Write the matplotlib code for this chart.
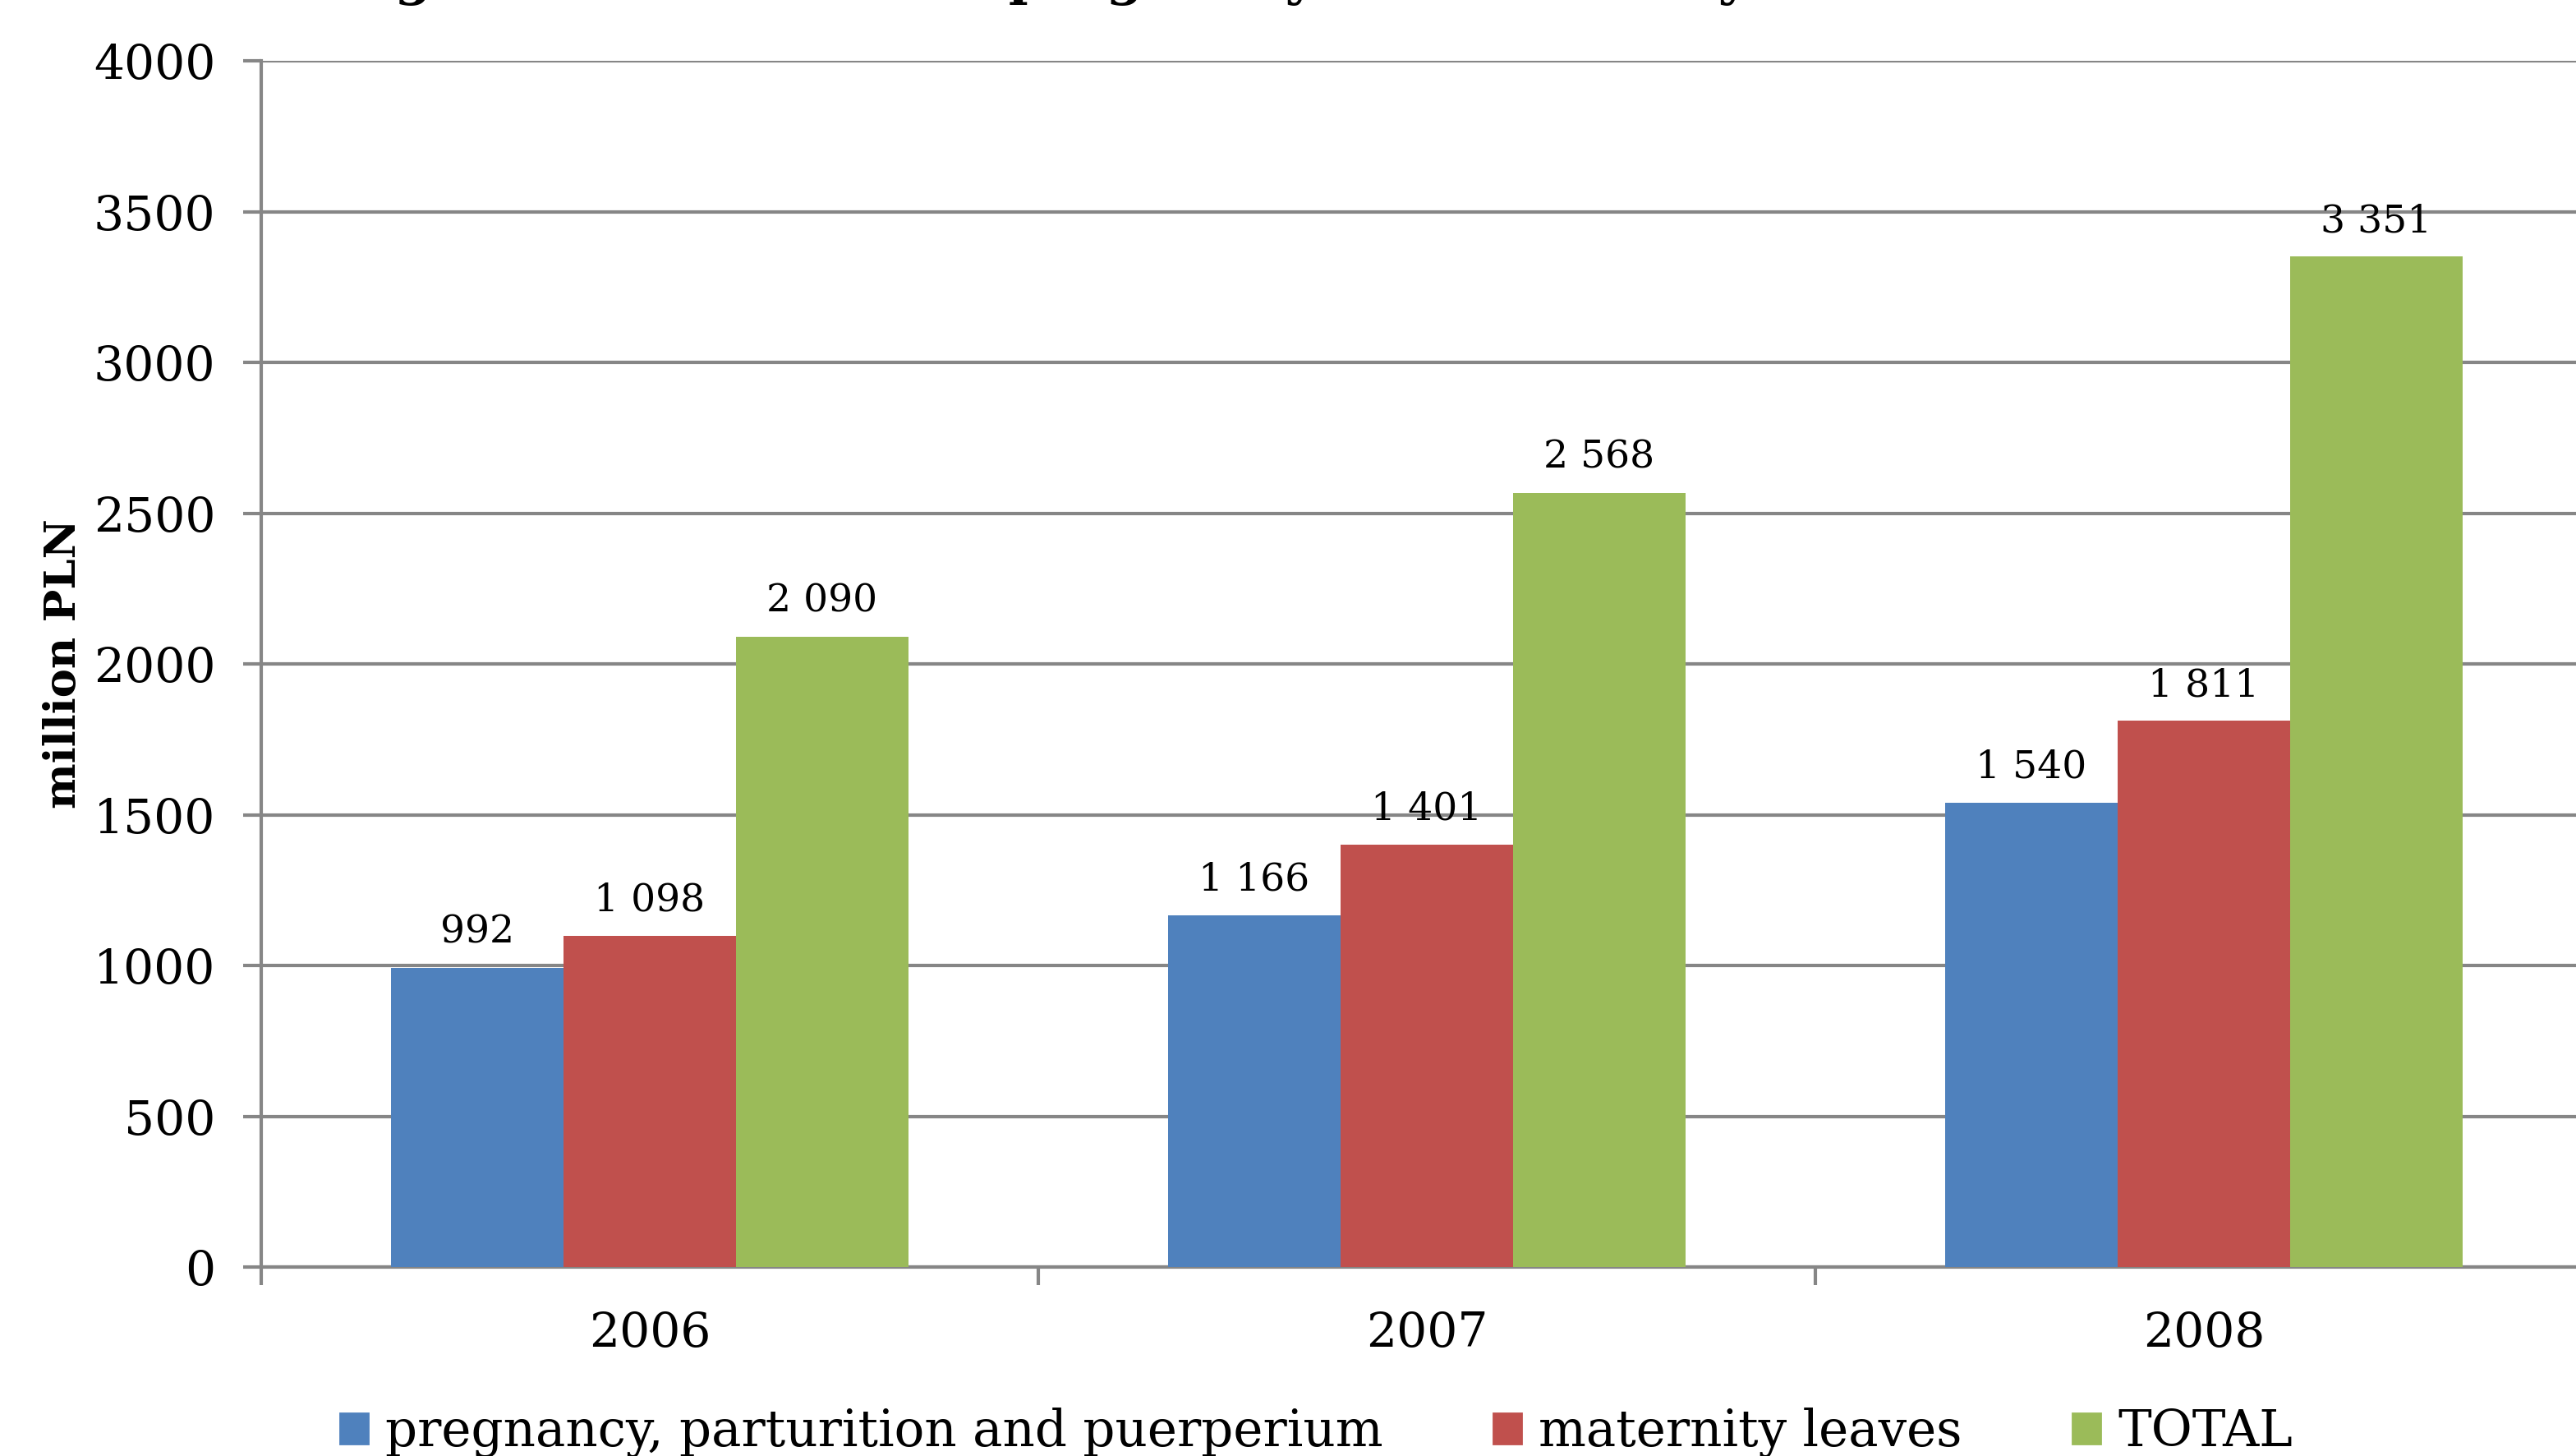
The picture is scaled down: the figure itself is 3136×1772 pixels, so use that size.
import numpy as np
import matplotlib.pyplot as plt
from matplotlib.patches import Patch

years = ['2006', '2007', '2008']
pregnancy = [992, 1166, 1540]
maternity = [1098, 1401, 1811]
total = [2090, 2568, 3351]
series_names = ['pregnancy, parturition and puerperium', 'maternity leaves', 'TOTAL']
colors = ['#4F81BD', '#C0504D', '#9BBB59']

plt.rcParams['font.family'] = 'DejaVu Serif'

fig = plt.figure(figsize=(15.68, 8.86), dpi=200)
ax = fig.add_axes([0.1014, 0.1298, 0.905, 0.8284])

x = np.arange(len(years))
w = 0.222
for i, (vals, name, c) in enumerate(zip([pregnancy, maternity, total], series_names, colors)):
    bars = ax.bar(x + (i - 1) * w, vals, w, color=c, label=name, zorder=3)
    for b, v in zip(bars, vals):
        ax.text(b.get_x() + b.get_width() / 2, v + 55, f'{v:,}'.replace(',', ' '),
                ha='center', va='bottom', fontsize=17)

ax.set_xlim(-0.5, 2.5)
ax.set_ylim(0, 4000)
ax.set_yticks(np.arange(0, 4001, 500))
ax.yaxis.grid(True, color='#868686', linewidth=1.5, zorder=0)
ax.set_xticks(x)
ax.set_xticklabels(years)
ax.set_xticks([-0.5, 0.5, 1.5], minor=True)
ax.tick_params(axis='x', which='major', length=0, labelsize=21, pad=19)
ax.tick_params(axis='x', which='minor', length=8, width=1.5, color='#868686')
ax.tick_params(axis='y', length=8, width=1.5, color='#868686', labelsize=21, pad=12)
for s in ['top', 'right']:
    ax.spines[s].set_visible(False)
for s in ['left', 'bottom']:
    ax.spines[s].set_color('#868686')
    ax.spines[s].set_linewidth(1.5)

ax.set_ylabel('million PLN', fontsize=19, fontweight='bold', labelpad=4)

# title sits above the top edge, only its descenders show
fig.text(0.131, 1.004, 'Fig. 1. Benefits due to pregnancy and maternity',
         ha='left', va='baseline', fontsize=23, fontweight='bold')

handles = [Patch(color=c) for c in colors]
fig.legend(handles, series_names, loc='center', bbox_to_anchor=(0.511, 0.016), ncol=3,
           frameon=False, fontsize=22, handlelength=0.55, handleheight=0.55,
           handletextpad=0.35, columnspacing=2.2)

fig.savefig('out.png')
